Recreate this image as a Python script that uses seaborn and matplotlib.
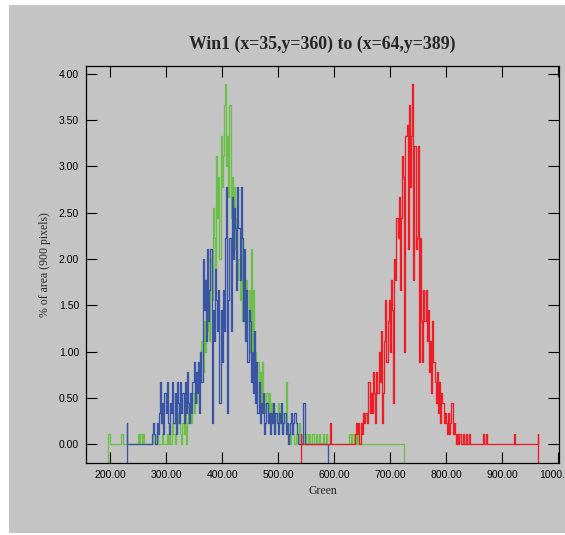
import numpy as np
import pandas as pd
import matplotlib
matplotlib.use("Agg")
import matplotlib.pyplot as plt
import seaborn as sns

# ---------------- data (pixel counts per 2-unit bin, 900 pixels total) ----------------
TITLE = "Win1 (x=35,y=360) to (x=64,y=389)"
X_LABEL = "Green"
Y_LABEL = "% of area (900 pixels)"
TOTAL_PIXELS = 900
BIN_WIDTH = 2

x_ticks = [200, 300, 400, 500, 600, 700, 800, 900, 1000]
y_ticks = [0.0, 0.5, 1.0, 1.5, 2.0, 2.5, 3.0, 3.5, 4.0]

green_start = 196
green_counts = [
    1, 1, 0, 0, 0, 0, 0, 0, 0, 0, 0, 0,           # 196-218
    1, 1, 0, 0, 0, 0, 0, 0, 0, 0,                 # 220-238
    0, 0, 0, 0, 0, 1, 0, 1, 1, 0,                 # 240-258
    1, 0, 0, 0, 0, 0, 0, 0, 0, 1,                 # 260-278
    1, 0, 1, 0, 0, 0, 0, 1, 0, 0,                 # 280-298
    0, 1, 0, 1, 0, 0, 2, 1, 0, 1,                 # 300-318
    3, 2, 3, 1, 0, 2, 1, 3, 0, 2,                 # 320-338
    4, 3, 4, 2, 5, 3, 6, 4, 7, 5,                 # 340-358
    8, 6, 10, 7, 12, 9, 13, 11, 15, 10,           # 360-378
    18, 14, 23, 20, 17, 28, 22, 26, 18, 30,       # 380-398
    25, 28, 33, 35, 27, 30, 24, 33, 22, 26,       # 400-418
    20, 25, 19, 22, 16, 18, 14, 21, 12, 16,       # 420-438
    14, 10, 16, 12, 15, 9, 19, 8, 15, 7,          # 440-458
    9, 6, 8, 5, 7, 4, 8, 5, 3, 4,                 # 460-478
    5, 3, 5, 2, 4, 3, 4, 1, 3, 2,                 # 480-498
    4, 3, 2, 4, 1, 2, 3, 6, 1, 1,                 # 500-518
    1, 0, 1, 2, 1, 0, 1, 1, 0, 2,                 # 520-538
    1, 0, 0, 1, 0, 1, 1, 0, 1, 0,                 # 540-558
    0, 1, 0, 0, 1, 0, 0, 1, 0, 0,                 # 560-578
    1, 0, 0, 1, 0, 0, 0, 0, 0, 0,                 # 580-598
    0, 0, 0, 0, 0, 0, 0, 0, 0, 0,                 # 600-618
    0, 0, 0, 0, 1, 0, 1, 1, 0, 0,                 # 620-638
    1, 0, 1, 0, 0, 0, 0, 0, 0, 0,                 # 640-658
    0, 0, 0, 0, 0, 0, 0, 0, 0, 0,                 # 660-678
    0, 0, 0, 0, 0, 0, 0, 0, 0, 0,                 # 680-698
    0, 0, 0, 0, 0, 0, 0, 0, 0, 0,                 # 700-718
    0, 0, 0,                                      # 720-724
]

blue_start = 230
blue_counts = [
    2, 0, 0, 0, 0, 0, 0, 0, 0, 0,                 # 230-248
    0, 0, 0, 0, 0, 0, 0, 0, 0, 0,                 # 250-268
    0, 0, 0, 1, 2, 1, 0, 2, 1, 3,                 # 270-288
    6, 2, 4, 1, 5, 3, 6, 2, 1, 4,                 # 290-308
    3, 6, 2, 5, 1, 6, 4, 2, 6, 3,                 # 310-328
    5, 2, 6, 3, 7, 4, 2, 5, 3, 6,                 # 330-348
    8, 4, 7, 5, 8, 3, 9, 6, 18, 13,               # 350-368
    16, 10, 19, 12, 15, 19, 2, 13, 10, 17,        # 370-388
    14, 11, 15, 4, 13, 8, 15, 11, 20, 25,         # 390-408
    3, 14, 20, 11, 24, 18, 23, 21, 15, 25,        # 410-428
    21, 16, 25, 20, 12, 19, 10, 15, 8, 13,        # 430-448
    12, 6, 9, 5, 11, 4, 8, 3, 6, 2,               # 450-468
    4, 3, 5, 1, 2, 4, 2, 3, 1, 3,                 # 470-488
    2, 4, 1, 3, 2, 1, 3, 2, 4, 1,                 # 490-508
    2, 3, 1, 2, 0, 1, 2, 3, 1, 2,                 # 510-528
    3, 2, 1, 0, 0, 0, 0, 0, 4, 0,                 # 530-548
    0, 0, 0, 0, 0, 0, 0, 0, 0, 0,                 # 550-568
    0, 0, 0, 0, 0, 0, 0, 0, 0, 0,                 # 570-588
]

red_start = 540
red_counts = [
    1, 0, 0, 0, 0, 0, 0, 0, 0, 0,                 # 540-558
    0, 0, 0, 0, 0, 0, 0, 0, 0, 0,                 # 560-578
    0, 0, 0, 0, 0, 0, 0, 2, 0, 0,                 # 580-598
    0, 0, 0, 0, 0, 0, 0, 0, 0, 0,                 # 600-618
    0, 0, 0, 0, 0, 0, 0, 0, 0, 1,                 # 620-638
    2, 1, 2, 0, 2, 1, 3, 2, 3, 3,                 # 640-658
    2, 6, 3, 5, 3, 7, 5, 2, 7, 5,                 # 660-678
    9, 6, 11, 2, 5, 10, 14, 8, 12, 14,            # 680-698
    9, 16, 13, 4, 18, 16, 22, 20, 24, 15,         # 700-718
    22, 28, 26, 9, 30, 31, 19, 33, 25, 30,        # 720-738
    35, 16, 29, 19, 20, 29, 8, 20, 12, 8,         # 740-758
    15, 12, 15, 10, 13, 7, 10, 5, 12, 8,          # 760-778
    6, 4, 7, 3, 6, 2, 5, 4, 2, 3,                 # 780-798
    2, 1, 3, 1, 2, 4, 1, 2, 1, 0,                 # 800-818
    1, 0, 1, 1, 0, 1, 0, 0, 1, 0,                 # 820-838
    0, 1, 0, 0, 0, 0, 0, 0, 0, 0,                 # 840-858
    0, 0, 0, 1, 0, 0, 1, 0, 0, 0,                 # 860-878
    0, 0, 0, 0, 0, 0, 0, 0, 0, 0,                 # 880-898
    0, 0, 0, 0, 0, 0, 0, 0, 0, 0,                 # 900-918
    0, 1, 0, 0, 0, 0, 0, 0, 0, 0,                 # 920-938
    0, 0, 0, 0, 0, 0, 0, 0, 0, 0,                 # 940-958
    0, 0, 1,                                      # 960-964
]

series_names = ["Green", "Blue", "Red"]
series_colors = {"Green": "#6cbf48", "Blue": "#3a55a8", "Red": "#ee1c24"}

X_MIN, X_MAX = 157, 1001
Y_MIN, Y_MAX = -0.205, 4.086


def make_frame(name, start, counts):
    x = start + BIN_WIDTH * np.arange(len(counts))
    pct = np.asarray(counts, dtype=float) * 100.0 / TOTAL_PIXELS
    # the original plot drops each trace to the bottom of the axis at both ends
    x = np.concatenate([[x[0]], x, [x[-1]]])
    pct = np.concatenate([[Y_MIN], pct, [Y_MIN]])
    return pd.DataFrame({"value": x, "pct": pct, "channel": name})


frames = {
    "Green": make_frame("Green", green_start, green_counts),
    "Blue": make_frame("Blue", blue_start, blue_counts),
    "Red": make_frame("Red", red_start, red_counts),
}

# ---------------- figure ----------------
sns.set_style("ticks")
GRAY = "#c4c4c4"
plt.rcParams["font.family"] = ["Liberation Sans", "DejaVu Sans"]

W, H = 565, 535
fig = plt.figure(figsize=(W / 100, H / 100), dpi=100, facecolor="white")
# gray panel background
bg = plt.Rectangle((9 / W, 1 - 533 / H), (W - 9) / W, (533 - 5) / H,
                   transform=fig.transFigure, facecolor=GRAY,
                   edgecolor="none", zorder=-10)
fig.patches.append(bg)

ax = fig.add_axes([86 / W, 1 - 463 / H, (559 - 86) / W, (463 - 66) / H])
ax.set_zorder(5)
ax.set_facecolor(GRAY)

for name in series_names:
    sns.lineplot(data=frames[name], x="value", y="pct", color=series_colors[name],
                 estimator=None, sort=False, drawstyle="steps-mid",
                 linewidth=0.95, ax=ax, legend=False)

ax.set_xlim(X_MIN, X_MAX)
ax.set_ylim(Y_MIN, Y_MAX)
ax.set_xticks(x_ticks)
ax.set_yticks(y_ticks)
ax.set_xticklabels([f"{v:.2f}" for v in x_ticks])
ax.set_yticklabels([f"{v:.2f}" for v in y_ticks])
ax.tick_params(axis="both", which="major", direction="in", length=8, width=0.8,
               top=True, right=True, labelsize=7.5, pad=5, color="black",
               labelcolor="black")
for sp in ax.spines.values():
    sp.set_visible(True)
    sp.set_color("black")
    sp.set_linewidth(0.9)

ax.set_xlabel(X_LABEL, family=["Liberation Serif", "DejaVu Serif"], fontsize=8.5)
ax.set_ylabel(Y_LABEL, family=["Liberation Serif", "DejaVu Serif"], fontsize=8.5)
ax.xaxis.set_label_coords(0.5, (463 - 491) / (463 - 66))
ax.xaxis.label.set_va("center")
ax.yaxis.set_label_coords((45 - 86) / (559 - 86), 0.5)
ax.yaxis.label.set_va("center")

ax.text(0.5, (463 - 44) / (463 - 66), TITLE, transform=ax.transAxes,
        ha="center", va="center", fontsize=12.8, fontweight="bold",
        family=["Liberation Serif", "DejaVu Serif"])

fig.savefig("out.png", dpi=100, facecolor="white")
